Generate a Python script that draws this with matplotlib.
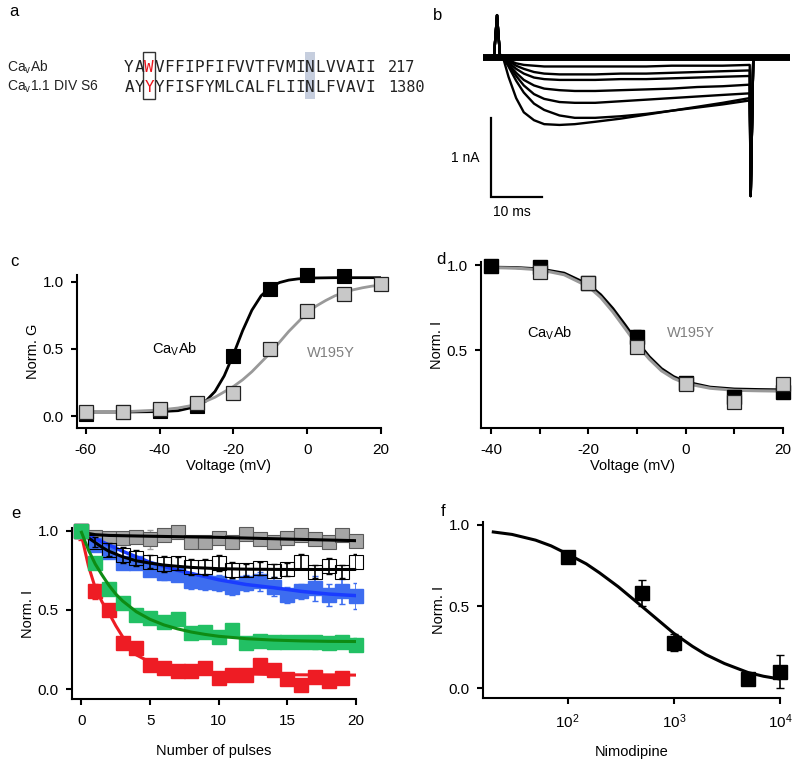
import numpy as np
import matplotlib
matplotlib.use('Agg')
import matplotlib.pyplot as plt
from matplotlib.patches import Rectangle

plt.rcParams['font.family'] = ['Liberation Sans', 'DejaVu Sans']
plt.rcParams['mathtext.default'] = 'regular'
plt.rcParams['axes.linewidth'] = 1.5
plt.rcParams['axes.unicode_minus'] = False

# ---------------- data ----------------
# a: alignment
seq_names = ['Ca$_v$Ab', 'Ca$_v$1.1 DIV S6']
seq_rows = ['YAWVFFIPFIFVVTFVMINLVVAII', 'AYYYFISFYMLCALFLIINLFVAVI']
seq_ends = ['217', '1380']
red_col = 2
hi_col = 18

# b: current traces (ms, nA)
trace_t = [0, 2.15, 2.75, 3.35, 3.9, 5, 6.5, 8, 10, 12, 15, 18, 22, 27, 32, 37, 42, 47,
           52.3, 52.5, 53.0, 60.2]
trace_body = [
    [0, -0.04, -0.08, -0.10, -0.11, -0.12, -0.12, -0.12, -0.12, -0.12, -0.12, -0.11, -0.11, -0.11, -0.10],
    [0, -0.05, -0.11, -0.15, -0.19, -0.21, -0.22, -0.22, -0.22, -0.21, -0.21, -0.20, -0.19, -0.18, -0.17],
    [0, -0.07, -0.15, -0.21, -0.26, -0.28, -0.29, -0.29, -0.29, -0.28, -0.28, -0.27, -0.26, -0.25, -0.24],
    [0, -0.09, -0.20, -0.29, -0.36, -0.40, -0.42, -0.43, -0.43, -0.42, -0.41, -0.40, -0.38, -0.37, -0.35],
    [0, -0.10, -0.24, -0.36, -0.47, -0.53, -0.57, -0.58, -0.58, -0.56, -0.54, -0.52, -0.50, -0.48, -0.46],
    [0, -0.12, -0.30, -0.45, -0.59, -0.67, -0.74, -0.77, -0.77, -0.75, -0.72, -0.68, -0.64, -0.60, -0.55],
    [0, -0.25, -0.52, -0.70, -0.80, -0.85, -0.86, -0.85, -0.82, -0.78, -0.73, -0.68, -0.63, -0.58, -0.52],
]
cap_peak = 0.53
tail_peak = -1.76
scale_ms = 10
scale_na = 1

# c: activation
gv_wt_v = [-60, -50, -40, -30, -20, -10, 0, 10]
gv_wt = [0.012, 0.028, 0.035, 0.075, 0.45, 0.945, 1.05, 1.045]
gv_mut_v = [-60, -50, -40, -30, -20, -10, 0, 10, 20]
gv_mut = [0.028, 0.032, 0.05, 0.094, 0.17, 0.50, 0.785, 0.905, 0.985]
gv_fit_v = [-60, -50, -40, -35, -30, -27.5, -25, -22.5, -20, -17.5, -15, -12.5, -10, -7.5,
            -5, -2.5, 0, 2.5, 5, 7.5, 10, 12.5, 15, 17.5, 20]
gv_fit_wt = [0.03, 0.03, 0.033, 0.04, 0.071, 0.111, 0.183, 0.299, 0.459, 0.636, 0.788, 0.895,
             0.959, 0.994, 1.012, 1.021, 1.026, 1.028, 1.029, 1.03, 1.03, 1.03, 1.03, 1.03, 1.03]
gv_fit_mut = [0.03, 0.032, 0.045, 0.06, 0.085, 0.11, 0.14, 0.18, 0.22, 0.27, 0.33, 0.40,
              0.47, 0.55, 0.63, 0.70, 0.77, 0.82, 0.86, 0.895, 0.92, 0.94, 0.955, 0.967, 0.975]

# d: inactivation
inact_wt_v = [-40, -30, -20, -10, 0, 10, 20]
inact_wt = [0.994, 0.99, 0.896, 0.575, 0.304, 0.225, 0.25]
inact_wt_err = [0.0, 0.0, 0.0, 0.045, 0.0, 0.0, 0.0]
inact_mut_v = [-30, -20, -10, 0, 10, 20]
inact_mut = [0.96, 0.896, 0.516, 0.30, 0.196, 0.30]
inact_fit_v = [-40, -35, -30, -25, -20, -17.5, -15, -12.5, -10, -7.5, -5, -2.5, 0, 5, 10, 15, 20]
inact_fit_wt = [0.987, 0.985, 0.977, 0.952, 0.885, 0.825, 0.744, 0.648, 0.548, 0.46, 0.39,
                0.343, 0.312, 0.281, 0.27, 0.267, 0.265]
inact_fit_mut = [0.985, 0.982, 0.972, 0.943, 0.873, 0.81, 0.725, 0.628, 0.53, 0.447, 0.378,
                 0.333, 0.303, 0.275, 0.263, 0.26, 0.258]

# e: use-dependent block
pulses = list(range(21))
grey_e = [1.0, 0.962, 0.952, 0.952, 0.958, 0.945, 0.973, 0.994, 0.93, 0.93, 0.952, 0.93,
          0.979, 0.945, 0.93, 0.952, 0.973, 0.945, 0.93, 0.973, 0.937]
grey_err = [0.01, 0.02, 0.02, 0.02, 0.02, 0.06, 0.02, 0.02, 0.02, 0.02, 0.02, 0.02,
            0.02, 0.02, 0.02, 0.02, 0.02, 0.02, 0.02, 0.02, 0.02]
white_e = [1.0, 0.93, 0.88, 0.847, 0.826, 0.805, 0.788, 0.794, 0.773, 0.773, 0.798, 0.752,
           0.752, 0.763, 0.748, 0.756, 0.805, 0.742, 0.777, 0.742, 0.805]
white_err = [0.0, 0.03, 0.04, 0.05, 0.05, 0.04, 0.05, 0.04, 0.05, 0.05, 0.05, 0.05,
             0.04, 0.04, 0.04, 0.04, 0.05, 0.04, 0.05, 0.04, 0.05]
blue_e = [1.0, 0.91, 0.868, 0.794, 0.794, 0.752, 0.731, 0.72, 0.68, 0.675, 0.668, 0.647,
          0.668, 0.68, 0.647, 0.595, 0.616, 0.637, 0.595, 0.616, 0.588]
blue_err = [0.0, 0.02, 0.03, 0.03, 0.03, 0.04, 0.04, 0.04, 0.05, 0.05, 0.05, 0.05,
            0.05, 0.06, 0.06, 0.05, 0.05, 0.08, 0.07, 0.08, 0.08]
green_e = [1.0, 0.794, 0.63, 0.542, 0.468, 0.448, 0.426, 0.441, 0.353, 0.363, 0.328, 0.374,
           0.29, 0.306, 0.30, 0.30, 0.30, 0.295, 0.29, 0.30, 0.28]
green_err = [0.0, 0.01, 0.02, 0.02, 0.02, 0.02, 0.02, 0.03, 0.02, 0.02, 0.02, 0.03,
             0.03, 0.03, 0.03, 0.03, 0.03, 0.04, 0.03, 0.03, 0.04]
red_pulses = list(range(20))
red_e = [1.0, 0.616, 0.50, 0.29, 0.258, 0.153, 0.132, 0.111, 0.111, 0.132, 0.069, 0.09,
         0.09, 0.153, 0.122, 0.063, 0.027, 0.079, 0.048, 0.069]
red_err = [0.06, 0.05, 0.04, 0.01, 0.01, 0.01, 0.01, 0.01, 0.01, 0.01, 0.01, 0.01,
           0.01, 0.01, 0.01, 0.01, 0.01, 0.01, 0.01, 0.01]

grey_fit_x = [0, 1, 2, 5, 10, 15, 20]
grey_fit = [0.99, 0.975, 0.97, 0.965, 0.958, 0.947, 0.937]
white_fit_x = [0, 0.5, 1, 1.5, 2, 3, 4, 5, 6, 7, 8, 10, 12, 15, 20]
white_fit = [0.99, 0.955, 0.925, 0.895, 0.87, 0.835, 0.81, 0.795, 0.783, 0.775, 0.768, 0.76,
             0.757, 0.755, 0.755]
blue_fit_x = [0, 1, 2, 3, 4, 5, 6, 7, 8, 9, 10, 12, 14, 16, 18, 20]
blue_fit = [0.99, 0.95, 0.91, 0.87, 0.835, 0.80, 0.775, 0.75, 0.73, 0.71, 0.69, 0.66,
            0.64, 0.617, 0.60, 0.59]
green_fit_x = [0, 0.5, 1, 1.5, 2, 2.5, 3, 4, 5, 6, 7, 8, 9, 10, 12, 14, 16, 18, 20]
green_fit = [0.99, 0.88, 0.79, 0.72, 0.655, 0.60, 0.556, 0.488, 0.44, 0.405, 0.38, 0.36,
             0.345, 0.333, 0.318, 0.309, 0.304, 0.301, 0.30]
red_fit_x = [0, 0.5, 1, 1.5, 2, 2.5, 3, 3.5, 4, 5, 6, 7, 8, 10, 12, 15, 20]
red_fit = [0.97, 0.78, 0.64, 0.55, 0.48, 0.40, 0.33, 0.26, 0.215, 0.17, 0.14, 0.12, 0.11,
           0.10, 0.095, 0.09, 0.088]

# f: nimodipine dose response
nimo_conc = [100, 500, 1000, 5000, 10000]
nimo_i = [0.80, 0.583, 0.278, 0.057, 0.10]
nimo_err = [0.02, 0.08, 0.05, 0.02, 0.10]
nimo_fit_c = [20, 30, 50, 70, 100, 150, 200, 300, 500, 700, 1000, 1500, 2000, 3000, 5000,
              7000, 10000]
nimo_fit = [0.955, 0.94, 0.905, 0.87, 0.82, 0.76, 0.705, 0.62, 0.50, 0.42, 0.335, 0.255,
            0.205, 0.15, 0.095, 0.072, 0.055]

# ---------------- figure ----------------
W, H = 800, 764
fig = plt.figure(figsize=(W / 100, H / 100), dpi=100)
FS = 10.5


def px_axes(left, top, right, bottom):
    return fig.add_axes([left / W, 1 - bottom / H, (right - left) / W, (bottom - top) / H])


def style(ax):
    for s in ['top', 'right']:
        ax.spines[s].set_visible(False)
    ax.tick_params(direction='out', length=4.5, width=1.5, labelsize=11)
    ax.tick_params(axis='x', pad=6)
    ax.tick_params(axis='y', pad=5)


overlay = px_axes(0, 0, W, H)
overlay.set_xlim(0, W)
overlay.set_ylim(H, 0)
overlay.axis('off')

for lab, (x, y) in zip('abcdef', [(14, 12), (438, 15), (14, 261), (441, 259), (16, 513), (443, 511)]):
    overlay.text(x, y, lab, fontsize=12, ha='center', va='center')

# panel a
pitch = 10.05
x0 = 124
row_y = [67, 87]
overlay.add_patch(Rectangle((x0 + hi_col * pitch, 52), pitch, 47, color='#c6cede', lw=0, zorder=1))
overlay.add_patch(Rectangle((x0 + red_col * pitch - 0.8, 52), pitch + 1.6, 47, fill=False,
                            ec='#333333', lw=1.0, zorder=3))
for name, row, end, y in zip(seq_names, seq_rows, seq_ends, row_y):
    overlay.text(7, y, name, fontsize=10, ha='left', va='center', zorder=4, color='#222222')
    for i, ch in enumerate(row):
        overlay.text(x0 + (i + 0.5) * pitch, y, ch, fontsize=11.5, family='DejaVu Sans Mono',
                     ha='center', va='center', color='#e8141c' if i == red_col else '#222222',
                     zorder=4)
    overlay.text(388, y, end, fontsize=11, family='DejaVu Sans Mono', ha='left', va='center',
                 color='#222222')

# panel b
ax_b = px_axes(483, 10, 790, 215)
ax_b.set_xlim(0, 60.2)
ax_b.set_ylim(-2.0, 0.595)
ax_b.axis('off')
cap = [0, 0, cap_peak, 0]
tail = [tail_peak, 0, 0]
ax_b.plot([trace_t[0], trace_t[-1]], [0, 0], color='black', lw=5)
for body in trace_body:
    ax_b.plot(trace_t, cap + body + tail, color='black', lw=1.7)
bx, by = 1.57, -1.77
ax_b.plot([bx, bx, bx + scale_ms], [by + scale_na, by, by], color='black', lw=1.6,
          clip_on=False, solid_joinstyle='miter')
ax_b.text(bx - 2.2, by + 0.49, '1 nA', fontsize=10, ha='right', va='center')
ax_b.text(bx + 0.4, by - 0.19, '10 ms', fontsize=10, ha='left', va='center')

# panel c
ax_c = px_axes(77, 275, 381, 428)
style(ax_c)
ax_c.set_xlim(-62.4, 20)
ax_c.set_ylim(-0.089, 1.05)
ax_c.plot(gv_fit_v, gv_fit_wt, color='black', lw=2, zorder=2)
ax_c.plot(gv_fit_v, gv_fit_mut, color='#999999', lw=2, zorder=2)
ax_c.plot(gv_wt_v, gv_wt, 's', ms=10, mfc='black', mec='black', mew=0.8, clip_on=False, zorder=3)
ax_c.plot(gv_mut_v, gv_mut, 's', ms=10, mfc='#c8c8c8', mec='#222222', mew=0.9, clip_on=False,
          zorder=4)
ax_c.set_xticks([-60, -40, -20, 0, 20])
ax_c.set_yticks([0, 0.5, 1.0])
ax_c.set_yticklabels(['0.0', '0.5', '1.0'])
ax_c.set_xlabel('Voltage (mV)', fontsize=FS, labelpad=2)
ax_c.set_ylabel('Norm. G', fontsize=FS, labelpad=2)
ax_c.text(-36, 0.5, 'Ca$_V$Ab', fontsize=FS, ha='center', va='center')
ax_c.text(6.5, 0.47, 'W195Y', fontsize=FS, color='#808080', ha='center', va='center')

# panel d
ax_d = px_axes(481, 262, 783, 428)
style(ax_d)
ax_d.set_xlim(-42.1, 20)
ax_d.set_ylim(0.041, 1.018)
ax_d.errorbar(inact_wt_v, inact_wt, yerr=[[0] * 7, inact_wt_err], fmt='none', ecolor='black',
              elinewidth=1.2, capsize=3, zorder=2)
ax_d.plot(inact_fit_v, inact_fit_wt, color='black', lw=2.2, zorder=2)
ax_d.plot(inact_fit_v, inact_fit_mut, color='#999999', lw=2.2, zorder=2)
ax_d.plot(inact_wt_v, inact_wt, 's', ms=10, mfc='black', mec='black', clip_on=False, zorder=3)
ax_d.plot(inact_mut_v, inact_mut, 's', ms=10, mfc='#c8c8c8', mec='#222222', mew=0.9,
          clip_on=False, zorder=4)
ax_d.set_xticks([-40, -30, -20, -10, 0, 10, 20])
ax_d.set_xticklabels(['-40', '', '-20', '', '0', '', '20'])
ax_d.set_yticks([0.5, 1.0])
ax_d.set_yticklabels(['0.5', '1.0'])
ax_d.set_xlabel('Voltage (mV)', fontsize=FS, labelpad=2)
ax_d.set_ylabel('Norm. I', fontsize=FS, labelpad=2)
ax_d.text(-28, 0.6, 'Ca$_V$Ab', fontsize=FS, ha='center', va='center')
ax_d.text(1, 0.6, 'W195Y', fontsize=FS, color='#808080', ha='center', va='center')

# panel e
ax_e = px_axes(72, 528, 356, 699)
style(ax_e)
ax_e.set_xlim(-0.69, 20)
ax_e.set_ylim(-0.063, 1.017)
sq = dict(marker='s', ms=10.5, ls='none', clip_on=False)
ax_e.errorbar(pulses, grey_e, yerr=grey_err, fmt='none', ecolor='#a0a0a0', elinewidth=1,
              capsize=2.5, zorder=2)
ax_e.plot(pulses, grey_e, mfc='#a6a6a6', mec='#5a5a5a', mew=0.8, zorder=2, **sq)
ax_e.errorbar(pulses, blue_e, yerr=blue_err, fmt='none', ecolor='#3d6df0', elinewidth=1.2,
              capsize=2.5, zorder=3)
ax_e.plot(pulses, blue_e, mfc='#3d6df0', mec='#3d6df0', zorder=3, **sq)
ax_e.plot(blue_fit_x, blue_fit, color='#1a3cff', lw=2.5, zorder=4)
ax_e.errorbar(pulses, white_e, yerr=white_err, fmt='none', ecolor='black', elinewidth=1.2,
              capsize=2.5, zorder=5)
ax_e.plot(pulses, white_e, mfc='none', mec='black', mew=0.8, zorder=5, **sq)
ax_e.plot(white_fit_x, white_fit, color='black', lw=2.2, zorder=6)
ax_e.plot(grey_fit_x, grey_fit, color='black', lw=2.2, zorder=6)
ax_e.errorbar(pulses, green_e, yerr=green_err, fmt='none', ecolor='#22c064', elinewidth=1.2,
              capsize=2.5, zorder=7)
ax_e.errorbar(red_pulses, red_e, yerr=red_err, fmt='none', ecolor='#ee1c24', elinewidth=1.2,
              capsize=2.5, zorder=7)
ax_e.plot(red_pulses, red_e, mfc='#ee1c24', mec='#ee1c24', zorder=7, **sq)
ax_e.plot(red_fit_x, red_fit, color='#ee1c24', lw=2.2, zorder=8)
ax_e.plot(pulses, green_e, mfc='#22c064', mec='#22c064', zorder=8, **sq)
ax_e.plot(green_fit_x, green_fit, color='#0e8c14', lw=2.2, zorder=9)
ax_e.set_xticks([0, 5, 10, 15, 20])
ax_e.set_yticks([0, 0.5, 1.0])
ax_e.set_yticklabels(['0.0', '0.5', '1.0'])
ax_e.set_xlabel('Number of pulses', fontsize=FS, labelpad=12)
ax_e.set_ylabel('Norm. I', fontsize=FS, labelpad=2)

# panel f
ax_f = px_axes(483, 522, 780, 698)
style(ax_f)
ax_f.set_xscale('log')
ax_f.set_xlim(16, 10000)
ax_f.set_ylim(-0.061, 1.016)
ax_f.plot(nimo_fit_c, nimo_fit, color='black', lw=2.2, zorder=2)
ax_f.errorbar(nimo_conc, nimo_i, yerr=nimo_err, fmt='none', ecolor='black', elinewidth=1.2,
              capsize=3, zorder=3, clip_on=False)
ax_f.plot(nimo_conc, nimo_i, 's', ms=10, mfc='black', mec='black', clip_on=False, zorder=4)
ax_f.set_xticks([100, 1000, 10000])
ax_f.set_xticklabels(['10$^2$', '10$^3$', '10$^4$'])
ax_f.xaxis.set_minor_locator(matplotlib.ticker.NullLocator())
ax_f.set_yticks([0, 0.5, 1.0])
ax_f.set_yticklabels(['0.0', '0.5', '1.0'])
ax_f.set_xlabel('Nimodipine', fontsize=FS, labelpad=10)
ax_f.set_ylabel('Norm. I', fontsize=FS, labelpad=2)

fig.savefig('out.png', dpi=100)
